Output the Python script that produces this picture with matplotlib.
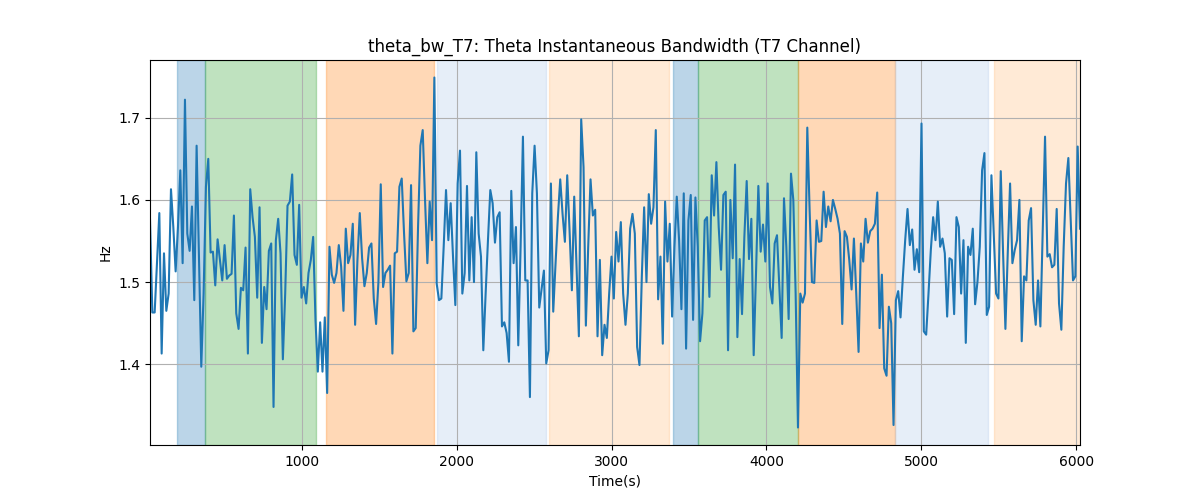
import numpy as np
import matplotlib
matplotlib.use("Agg")
import matplotlib.pyplot as plt

# Time range of the signal (s)
t_start, t_end = 20, 6024

# Theta instantaneous bandwidth values (Hz), read in order left to right
seg1 = [1.576, 1.463, 1.463, 1.523, 1.584, 1.413, 1.535, 1.465, 1.486, 1.613,
        1.567, 1.513, 1.567, 1.636, 1.523, 1.722, 1.559, 1.538, 1.592, 1.478,
        1.666, 1.531, 1.397, 1.486, 1.616, 1.650, 1.536, 1.537, 1.496, 1.552,
        1.527, 1.502, 1.545, 1.504, 1.508, 1.510, 1.581, 1.462, 1.443, 1.493,
        1.490, 1.542, 1.413, 1.613, 1.579, 1.555, 1.481, 1.591, 1.426, 1.494,
        1.467, 1.538, 1.547, 1.348, 1.551, 1.577]
seg2 = [1.535, 1.406, 1.486, 1.593, 1.598, 1.631, 1.533, 1.521, 1.594, 1.481,
        1.494, 1.474, 1.511, 1.527, 1.555, 1.454, 1.391, 1.451, 1.391, 1.457,
        1.365, 1.543, 1.509, 1.499, 1.511, 1.545, 1.519, 1.465, 1.565, 1.523,
        1.533, 1.571, 1.448, 1.527, 1.584, 1.529, 1.495, 1.511, 1.542, 1.547,
        1.480, 1.449, 1.500, 1.619, 1.494, 1.511, 1.515, 1.520, 1.413, 1.535,
        1.537, 1.616, 1.626, 1.559, 1.501, 1.511, 1.618]
seg3 = [1.440, 1.444, 1.567, 1.666, 1.685, 1.600, 1.523, 1.598, 1.551, 1.749,
        1.498, 1.478, 1.480, 1.543, 1.612, 1.551, 1.596, 1.531, 1.472, 1.620,
        1.660, 1.486, 1.511, 1.617, 1.502, 1.579, 1.500, 1.658, 1.559, 1.531,
        1.417, 1.486, 1.551, 1.612, 1.596, 1.548, 1.579, 1.585, 1.446, 1.451,
        1.438, 1.403, 1.611, 1.523, 1.567, 1.423, 1.543, 1.677, 1.502, 1.502,
        1.360, 1.608, 1.666, 1.608, 1.469, 1.492, 1.514, 1.401]
seg4 = [1.417, 1.620, 1.464, 1.523, 1.579, 1.625, 1.583, 1.549, 1.630, 1.563,
        1.490, 1.604, 1.519, 1.434, 1.698, 1.640, 1.447, 1.543, 1.625, 1.581,
        1.588, 1.434, 1.527, 1.411, 1.448, 1.432, 1.486, 1.531, 1.480, 1.561,
        1.525, 1.573, 1.486, 1.448, 1.486, 1.565, 1.583, 1.559, 1.421, 1.399,
        1.506, 1.591, 1.500, 1.607, 1.571, 1.591, 1.685, 1.479, 1.531, 1.425,
        1.598, 1.525, 1.571, 1.458, 1.543, 1.604, 1.551, 1.467]
seg5 = [1.608, 1.419, 1.575, 1.606, 1.454, 1.603, 1.543, 1.428, 1.462, 1.575,
        1.579, 1.482, 1.630, 1.581, 1.646, 1.567, 1.515, 1.606, 1.610, 1.417,
        1.600, 1.529, 1.643, 1.433, 1.528, 1.461, 1.555, 1.623, 1.528, 1.577,
        1.411, 1.511, 1.617, 1.537, 1.570, 1.525, 1.620, 1.494, 1.474, 1.547,
        1.557, 1.494, 1.432, 1.602, 1.543, 1.455, 1.632, 1.600, 1.486, 1.323,
        1.486, 1.475, 1.486, 1.688, 1.587, 1.500, 1.499]
seg6 = [1.575, 1.549, 1.550, 1.610, 1.567, 1.592, 1.574, 1.600, 1.589, 1.577,
        1.559, 1.449, 1.562, 1.555, 1.527, 1.491, 1.553, 1.486, 1.415, 1.547,
        1.525, 1.577, 1.548, 1.562, 1.565, 1.571, 1.609, 1.444, 1.509, 1.395,
        1.386, 1.470, 1.450, 1.326, 1.478, 1.489, 1.457, 1.506, 1.551, 1.589,
        1.545, 1.564, 1.515, 1.540, 1.512, 1.693, 1.440, 1.436, 1.486, 1.539,
        1.579, 1.551, 1.598, 1.543, 1.553, 1.535, 1.458, 1.529]
seg7 = [1.527, 1.461, 1.579, 1.567, 1.486, 1.551, 1.426, 1.543, 1.533, 1.565,
        1.473, 1.500, 1.543, 1.636, 1.657, 1.460, 1.470, 1.630, 1.559, 1.486,
        1.480, 1.635, 1.535, 1.443, 1.535, 1.620, 1.523, 1.539, 1.551, 1.600,
        1.428, 1.507, 1.502, 1.575, 1.590, 1.478, 1.448, 1.502, 1.446, 1.559,
        1.677, 1.531, 1.534, 1.518, 1.521, 1.589, 1.474, 1.442, 1.543, 1.620,
        1.651, 1.575, 1.502, 1.507, 1.665, 1.565]

values = np.array(seg1 + seg2 + seg3 + seg4 + seg5 + seg6 + seg7)
times = np.linspace(t_start, t_end, len(values))

# Shaded segments: (start, end, colour, alpha)
span_starts = [194, 373, 1157, 1870, 2598, 3399, 3559, 4205, 4832, 5467]
span_ends = [373, 1090, 1855, 2577, 3369, 3559, 4203, 4827, 5433, 6030]
span_colors = ["#1f77b4", "#2ca02c", "#ff7f0e", "#aec7e8", "#ffbb78",
               "#1f77b4", "#2ca02c", "#ff7f0e", "#aec7e8", "#ffbb78"]
span_alphas = [0.3, 0.3, 0.3, 0.3, 0.3, 0.3, 0.3, 0.3, 0.3, 0.3]

fig, ax = plt.subplots(figsize=(12, 5), dpi=100)
for s, e, c, a in zip(span_starts, span_ends, span_colors, span_alphas):
    ax.axvspan(s, e, color=c, alpha=a)
ax.plot(times, values, color="tab:blue", linewidth=1.5)
ax.set_xlim(times[0], times[-1])
ax.set_title("theta_bw_T7: Theta Instantaneous Bandwidth (T7 Channel)")
ax.set_xlabel("Time(s)")
ax.set_ylabel("Hz")
ax.grid(True)
fig.savefig("out.png", dpi=100)
